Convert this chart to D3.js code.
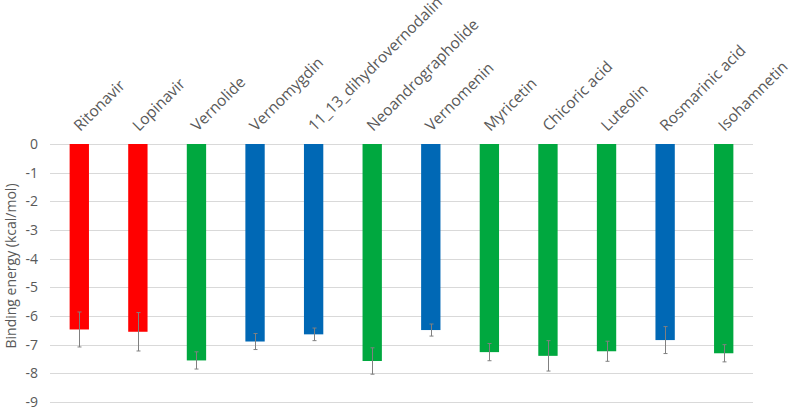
<!DOCTYPE html>
<html>
<head>
<meta charset="utf-8">
<script src="https://cdn.jsdelivr.net/npm/d3@7"></script>
<style>
  body { margin: 0; background: #fff; }
  text { font-family: "Open Sans", "Liberation Sans", sans-serif; fill: #595959; }
</style>
</head>
<body>
<svg width="789" height="409"></svg>
<script>
// compounds in the order shown
var compounds = ["Ritonavir", "Lopinavir", "Vernolide", "Vernomygdin", "11_13_dihydrovernodalin",
  "Neoandrographolide", "Vernomenin", "Myricetin", "Chicoric acid", "Luteolin", "Rosmarinic acid", "Isohamnetin"];
var energy = [-6.47, -6.55, -7.55, -6.89, -6.64, -7.57, -6.49, -7.26, -7.39, -7.23, -6.84, -7.30];
var errs = [0.61, 0.67, 0.30, 0.28, 0.22, 0.46, 0.21, 0.30, 0.53, 0.35, 0.47, 0.30];
var group = ["drug", "drug", "green", "blue", "blue", "green", "blue", "green", "green", "green", "blue", "green"];
var yTicks = [0, -1, -2, -3, -4, -5, -6, -7, -8, -9];

var colors = { drug: "#ff0000", green: "#00a83f", blue: "#0068b5" };

var svg = d3.select("svg");
var plotL = 50, plotR = 753, plotT = 144, plotB = 402;

var x = d3.scaleBand().domain(compounds).range([plotL, plotR]).paddingInner(0.67).paddingOuter(0.335);
var y = d3.scaleLinear().domain([0, -9]).range([plotT, plotB]);

// grid lines
svg.append("g").selectAll("line")
  .data(yTicks)
  .enter().append("line")
  .attr("x1", plotL).attr("x2", plotR)
  .attr("y1", function(d) { return Math.round(y(d)) + 0.5; })
  .attr("y2", function(d) { return Math.round(y(d)) + 0.5; })
  .attr("stroke", "#d9d9d9").attr("stroke-width", 1);

// y tick labels
svg.append("g").selectAll("text")
  .data(yTicks)
  .enter().append("text")
  .attr("x", 38)
  .attr("y", function(d) { return y(d); })
  .attr("dy", "0.35em")
  .attr("text-anchor", "end")
  .style("font-size", "14px")
  .text(function(d) { return d === 0 ? "0" : "-" + Math.abs(d); });

// y axis title
svg.append("text")
  .attr("transform", "translate(16,266) rotate(-90)")
  .attr("text-anchor", "middle")
  .style("font-size", "14px")
  .text("Binding energy (kcal/mol)");

// bars
svg.append("g").selectAll("rect")
  .data(compounds)
  .enter().append("rect")
  .attr("x", function(d) { return x(d); })
  .attr("y", y(0))
  .attr("width", x.bandwidth())
  .attr("height", function(d, i) { return y(energy[i]) - y(0); })
  .attr("fill", function(d, i) { return colors[group[i]]; });

// error bars
var eb = svg.append("g").attr("stroke", "#808080").attr("stroke-width", 1);
compounds.forEach(function(c, i) {
  var cx = Math.round(x(c) + x.bandwidth() / 2) + 0.5;
  var y1 = y(energy[i] + errs[i]), y2 = y(energy[i] - errs[i]);
  eb.append("line").attr("x1", cx).attr("x2", cx).attr("y1", y1).attr("y2", y2);
  eb.append("line").attr("x1", cx - 2).attr("x2", cx + 2).attr("y1", y1).attr("y2", y1);
  eb.append("line").attr("x1", cx - 2).attr("x2", cx + 2).attr("y1", y2).attr("y2", y2);
});

// category labels, rotated
svg.append("g").selectAll("text")
  .data(compounds)
  .enter().append("text")
  .attr("transform", function(d) {
    return "translate(" + (x(d) + x.bandwidth() / 2 + 1) + "," + (plotT - 12) + ") rotate(-45)";
  })
  .attr("text-anchor", "start")
  .style("font-size", "15.5px")
  .text(function(d) { return d; });
</script>
</body>
</html>
